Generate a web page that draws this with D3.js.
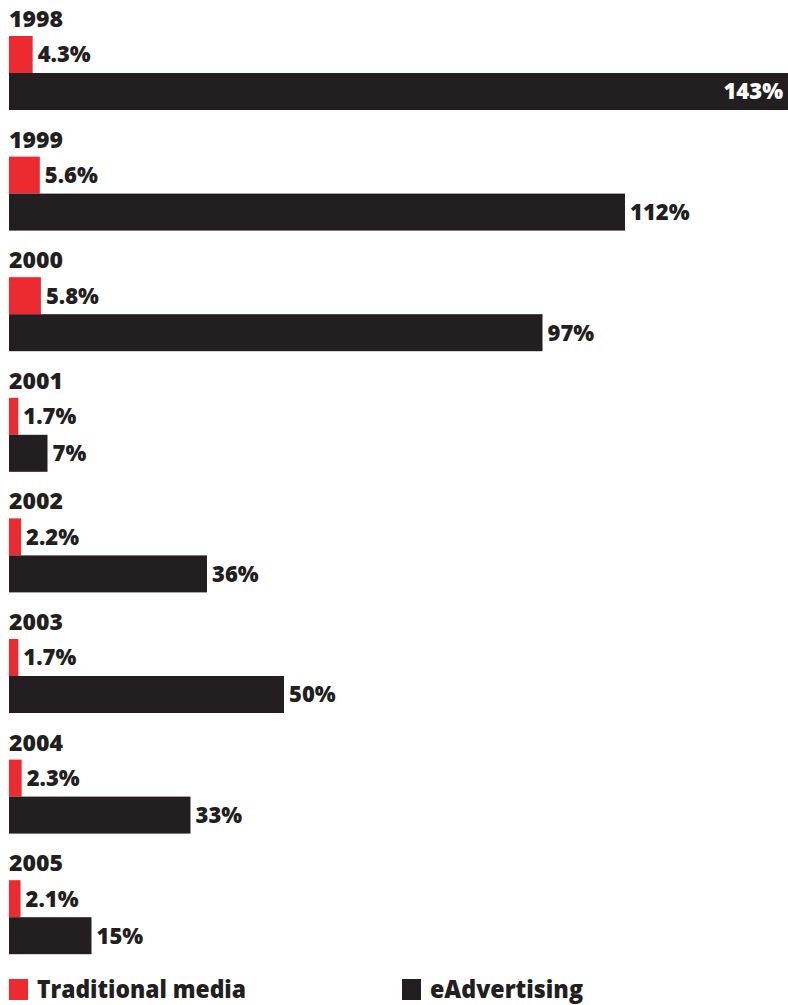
<!DOCTYPE html>
<html>
<head>
<meta charset="utf-8">
<script src="https://cdn.jsdelivr.net/npm/d3@7/dist/d3.min.js"></script>
<style>
  html, body { margin: 0; padding: 0; background: #fff; }
  svg { display: block; }
  text { font-family: "Open Sans", "DejaVu Sans", sans-serif; font-weight: 800; }
</style>
</head>
<body>
<svg id="chart" width="788" height="1005"></svg>
<script>
// Annual growth in advertising spend, by year
const years = ["1998", "1999", "2000", "2001", "2002", "2003", "2004", "2005"];
const traditionalMedia = [4.3, 5.6, 5.8, 1.7, 2.2, 1.7, 2.3, 2.1];
const eAdvertising = [143, 112, 97, 7, 36, 50, 33, 15];
const seriesNames = ["Traditional media", "eAdvertising"];
const seriesColors = ["#ec2a30", "#231f20"];

const W = 788, H = 1005;
const svg = d3.select("#chart");

// horizontal value scale (percent growth)
const x = d3.scaleLinear().domain([0, 143]).range([9, 9 + 143 * 5.5]);

// one band per year, each holding a title row and two bars
const groupStep = 120.6;
const y = d3.scaleBand().domain(years).range([0, groupStep * years.length]).paddingInner(0).paddingOuter(0);
const barH = 37;
const barTop = 36;

const rows = years.map((yr, i) => ({
  year: yr,
  values: [traditionalMedia[i], eAdvertising[i]]
}));

const groups = svg.selectAll("g.year")
  .data(rows)
  .join("g")
  .attr("class", "year")
  .attr("transform", d => `translate(0,${y(d.year)})`);

groups.append("text")
  .attr("x", 9)
  .attr("y", 27)
  .attr("font-size", 23)
  .attr("fill", "#231f20")
  .text(d => d.year);

const bars = groups.selectAll("g.bar")
  .data(d => d.values.map((v, k) => ({ v, k })))
  .join("g")
  .attr("class", "bar");

bars.append("rect")
  .attr("x", x(0))
  .attr("y", d => barTop + d.k * barH)
  .attr("width", d => x(d.v) - x(0))
  .attr("height", barH)
  .attr("fill", d => seriesColors[d.k]);

const fmt = v => (Number.isInteger(v) ? v : v.toFixed(1)) + "%";

bars.append("text")
  .attr("font-size", 22)
  .attr("y", d => barTop + d.k * barH + barH / 2)
  .attr("dy", "0.36em")
  .each(function (d) {
    const t = d3.select(this).text(fmt(d.v));
    const end = x(d.v);
    const w = this.getComputedTextLength();
    if (end + 5 + w > W) {
      // no room to the right: label sits inside the bar end
      t.attr("x", Math.min(end, W) - 5).attr("text-anchor", "end").attr("fill", "#fff");
    } else {
      t.attr("x", end + 5).attr("fill", "#231f20");
    }
  });

// legend
const legendX = [9, 402];
const legend = svg.selectAll("g.legend")
  .data(seriesNames)
  .join("g")
  .attr("class", "legend")
  .attr("transform", (d, i) => `translate(${legendX[i]},979)`);

legend.append("rect")
  .attr("width", 19)
  .attr("height", 21)
  .attr("fill", (d, i) => seriesColors[i]);

legend.append("text")
  .attr("x", 28)
  .attr("y", 19)
  .attr("font-size", 24)
  .attr("font-family", "'DejaVu Sans Condensed', 'DejaVu Sans', sans-serif")
  .attr("font-weight", "bold")
  .attr("fill", "#231f20")
  .attr("textLength", (d, i) => [209, 153][i])
  .attr("lengthAdjust", "spacingAndGlyphs")
  .text(d => d);
</script>
</body>
</html>
